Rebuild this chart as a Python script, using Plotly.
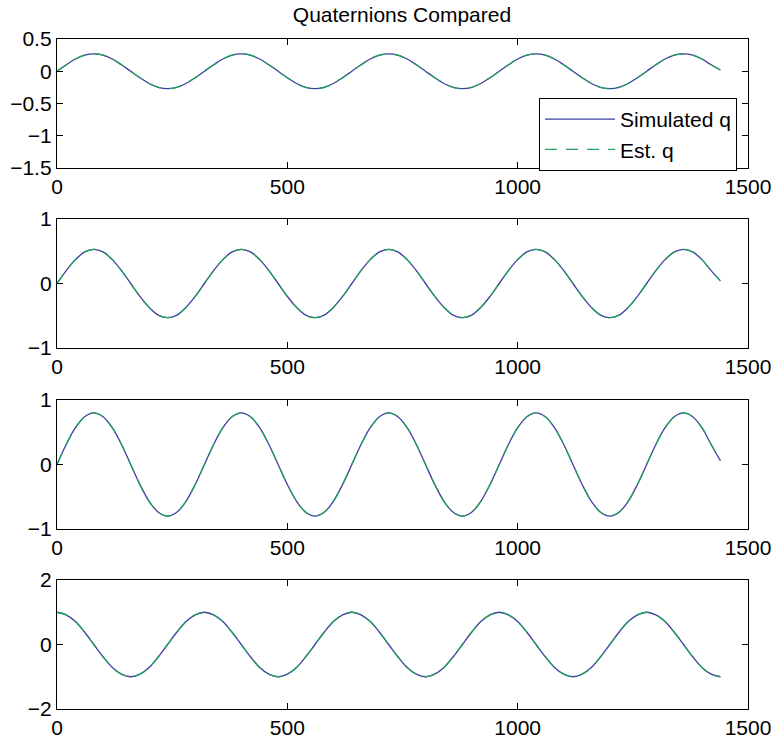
import plotly.graph_objects as go

# sample index (time step) of each reading
sample_idx = list(range(0, 1441, 20))

# simulated quaternion components, one row per 320-step cycle
sim_q1 = [0.00, 0.10, 0.19, 0.25, 0.27, 0.25, 0.19, 0.10, 0.00, -0.10, -0.19, -0.25, -0.27, -0.25, -0.19, -0.10,
          0.00, 0.10, 0.19, 0.25, 0.27, 0.25, 0.19, 0.10, 0.00, -0.10, -0.19, -0.25, -0.27, -0.25, -0.19, -0.10,
          0.00, 0.10, 0.19, 0.25, 0.27, 0.25, 0.19, 0.10, 0.00, -0.10, -0.19, -0.25, -0.27, -0.25, -0.19, -0.10,
          0.00, 0.10, 0.19, 0.25, 0.27, 0.25, 0.19, 0.10, 0.00, -0.10, -0.19, -0.25, -0.27, -0.25, -0.19, -0.10,
          0.00, 0.10, 0.19, 0.25, 0.27, 0.25, 0.19, 0.10, 0.02]
sim_q2 = [0.00, 0.20, 0.37, 0.49, 0.53, 0.49, 0.37, 0.20, 0.00, -0.20, -0.37, -0.49, -0.53, -0.49, -0.37, -0.20,
          0.00, 0.20, 0.37, 0.49, 0.53, 0.49, 0.37, 0.20, 0.00, -0.20, -0.37, -0.49, -0.53, -0.49, -0.37, -0.20,
          0.00, 0.20, 0.37, 0.49, 0.53, 0.49, 0.37, 0.20, 0.00, -0.20, -0.37, -0.49, -0.53, -0.49, -0.37, -0.20,
          0.00, 0.20, 0.37, 0.49, 0.53, 0.49, 0.37, 0.20, 0.00, -0.20, -0.37, -0.49, -0.53, -0.49, -0.37, -0.20,
          0.00, 0.20, 0.37, 0.49, 0.53, 0.49, 0.37, 0.20, 0.04]
sim_q3 = [0.00, 0.31, 0.57, 0.74, 0.80, 0.74, 0.57, 0.31, 0.00, -0.31, -0.57, -0.74, -0.80, -0.74, -0.57, -0.31,
          0.00, 0.31, 0.57, 0.74, 0.80, 0.74, 0.57, 0.31, 0.00, -0.31, -0.57, -0.74, -0.80, -0.74, -0.57, -0.31,
          0.00, 0.31, 0.57, 0.74, 0.80, 0.74, 0.57, 0.31, 0.00, -0.31, -0.57, -0.74, -0.80, -0.74, -0.57, -0.31,
          0.00, 0.31, 0.57, 0.74, 0.80, 0.74, 0.57, 0.31, 0.00, -0.31, -0.57, -0.74, -0.80, -0.74, -0.57, -0.31,
          0.00, 0.31, 0.57, 0.74, 0.80, 0.74, 0.57, 0.31, 0.06]
sim_q4 = [1.00, 0.92, 0.71, 0.38, 0.00, -0.38, -0.71, -0.92, -1.00, -0.92, -0.71, -0.38, 0.00, 0.38, 0.71, 0.92,
          1.00, 0.92, 0.71, 0.38, 0.00, -0.38, -0.71, -0.92, -1.00, -0.92, -0.71, -0.38, 0.00, 0.38, 0.71, 0.92,
          1.00, 0.92, 0.71, 0.38, 0.00, -0.38, -0.71, -0.92, -1.00, -0.92, -0.71, -0.38, 0.00, 0.38, 0.71, 0.92,
          1.00, 0.92, 0.71, 0.38, 0.00, -0.38, -0.71, -0.92, -1.00, -0.92, -0.71, -0.38, 0.00, 0.38, 0.71, 0.92,
          1.00, 0.92, 0.71, 0.38, 0.00, -0.38, -0.71, -0.92, -1.00]

# estimated quaternion components (filter output tracks the simulation)
est_q1 = list(sim_q1)
est_q2 = list(sim_q2)
est_q3 = list(sim_q3)
est_q4 = list(sim_q4)

x_ticks = [0, 500, 1000, 1500]
y_ranges = [[-1.5, 0.5], [-1, 1], [-1, 1], [-2, 2]]
y_ticks = [[-1.5, -1, -0.5, 0, 0.5], [-1, 0, 1], [-1, 0, 1], [-2, 0, 2]]
y_ticktext = [["\u22121.5", "\u22121", "\u22120.5", "0", "0.5"],
              ["\u22121", "0", "1"], ["\u22121", "0", "1"], ["\u22122", "0", "2"]]

W, H = 776, 740
x_dom = [57 / W, 748 / W]
# panel top/bottom in pixels
panels_px = [(39, 168), (219, 348), (400, 529), (580, 709)]

SIM_COLOR = "#3b3f9e"
EST_COLOR = "#22a060"
FONT = "Liberation Sans, Arial, Helvetica, sans-serif"

sims = [sim_q1, sim_q2, sim_q3, sim_q4]
ests = [est_q1, est_q2, est_q3, est_q4]

fig = go.Figure()
layout = {}
for i in range(4):
    xa = "x" if i == 0 else f"x{i+1}"
    ya = "y" if i == 0 else f"y{i+1}"
    fig.add_trace(go.Scatter(
        x=sample_idx, y=sims[i], xaxis=xa, yaxis=ya, mode="lines",
        line=dict(color=SIM_COLOR, width=1.3, shape="spline", smoothing=1.0),
        name="Simulated q", showlegend=(i == 0), legendrank=1))
    fig.add_trace(go.Scatter(
        x=sample_idx, y=ests[i], xaxis=xa, yaxis=ya, mode="lines",
        line=dict(color=EST_COLOR, width=1.3, dash="12px,9px",
                  shape="spline", smoothing=1.0),
        name="Est. q", showlegend=(i == 0), legendrank=2))

    top, bot = panels_px[i]
    xkey = "xaxis" if i == 0 else f"xaxis{i+1}"
    ykey = "yaxis" if i == 0 else f"yaxis{i+1}"
    common = dict(showline=True, linecolor="black", linewidth=1.3, mirror="allticks",
                  ticks="inside", ticklen=6, tickwidth=1, tickcolor="black",
                  showgrid=False, zeroline=False, automargin=False,
                  tickfont=dict(family=FONT, size=21, color="black"))
    layout[xkey] = dict(domain=x_dom, anchor=ya, range=[0, 1500],
                        tickmode="array", tickvals=x_ticks,
                        ticktext=[str(t) for t in x_ticks], **common)
    layout[ykey] = dict(domain=[1 - bot / H, 1 - top / H], anchor=xa,
                        range=y_ranges[i], tickmode="array",
                        tickvals=y_ticks[i], ticktext=y_ticktext[i], **common)

fig.update_layout(
    width=W, height=H,
    margin=dict(l=0, r=0, t=0, b=0, autoexpand=False),
    paper_bgcolor="white", plot_bgcolor="white",
    font=dict(family=FONT, size=21, color="black"),
    title=dict(text="Quaternions Compared", x=402 / W, xanchor="center",
               y=1 - 15 / H, yanchor="middle", yref="container",
               font=dict(family=FONT, size=21, color="black")),
    legend=dict(x=737 / W, xanchor="right", y=1 - 98 / H, yanchor="top",
                bgcolor="white", bordercolor="black", borderwidth=1,
                font=dict(family=FONT, size=21, color="black"),
                itemwidth=70, tracegroupgap=0),
    **layout,
)

fig.write_html("out.html")
